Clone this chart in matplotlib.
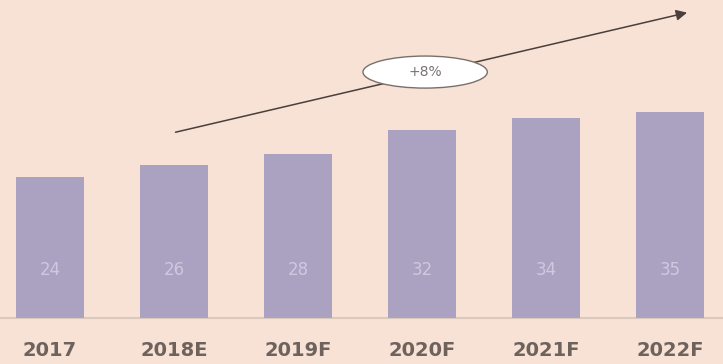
import numpy as np
import matplotlib
matplotlib.use('Agg')
import matplotlib.pyplot as plt
from matplotlib.patches import Ellipse

years = ['2017', '2018E', '2019F', '2020F', '2021F', '2022F']
values = [24, 26, 28, 32, 34, 35]
growth = '+8%'

bg = '#F8E1D5'
bar_color = '#ABA2C2'

fig = plt.figure(figsize=(7.23, 3.64), dpi=100)
fig.patch.set_facecolor(bg)
ax = fig.add_axes([0, 0, 1, 1])
ax.set_facecolor(bg)

x = np.arange(len(years))
ax.bar(x, values, width=0.55, color=bar_color, zorder=2)
ax.axhline(0, color='#DCC9BE', lw=1.5, zorder=1)

for xi, v in zip(x, values):
    ax.text(xi, 8.2, str(v), ha='center', va='center', fontsize=12,
            color='#CFC8DF', zorder=3)

for xi, lab in zip(x, years):
    ax.text(xi, -5.6, lab, ha='center', va='center', fontsize=14,
            fontweight='bold', color='#6E625D')

ax.set_xlim(-0.403, 5.427)
ax.set_ylim(-7.83, 54.13)
ax.axis('off')

# growth arrow with ellipse label
ax.annotate('', xy=(0.954, 0.967), xytext=(0.239, 0.635),
            xycoords='axes fraction', textcoords='axes fraction',
            arrowprops=dict(arrowstyle='-|>', color='#4A3F3A', lw=1.1,
                            mutation_scale=16))
ell = Ellipse((0.588, 0.802), 0.172, 0.088, transform=ax.transAxes,
              facecolor='#FFFFFF', edgecolor='#7A706B', lw=1.0, zorder=4)
ax.add_patch(ell)
ax.text(0.588, 0.802, growth, transform=ax.transAxes, ha='center',
        va='center', fontsize=10, color='#7A7272', zorder=5)

fig.savefig('out.png', dpi=100, facecolor=bg)
